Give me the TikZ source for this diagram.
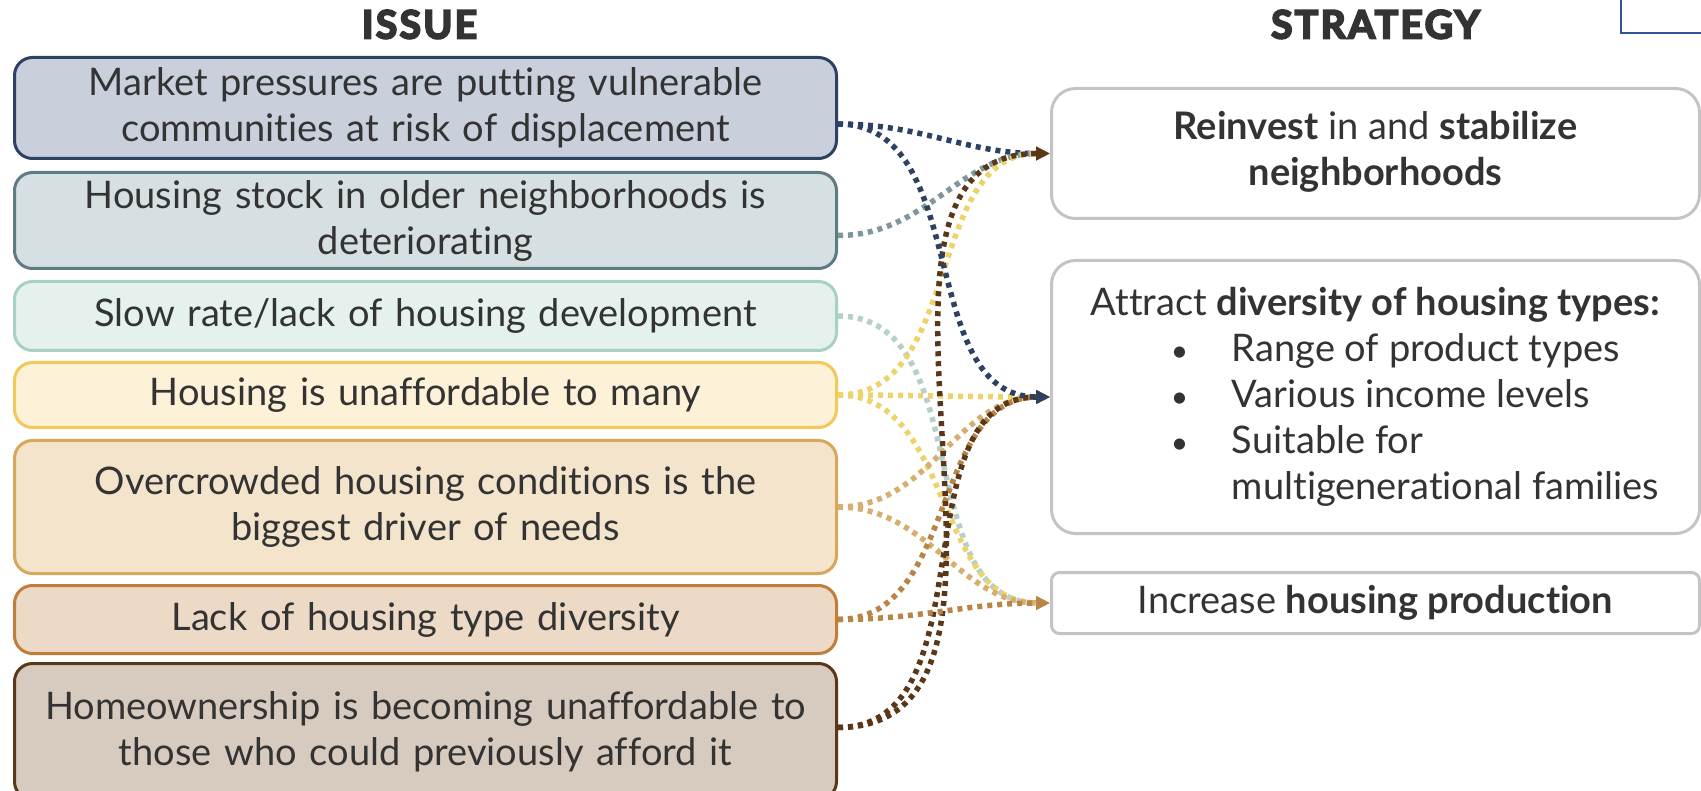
\documentclass[tikz,border=0pt]{standalone}
\usepackage{fontspec}
\setmainfont{Lato}[Ligatures=NoCommon]
\newfontfamily\headfont{Lato}[FakeBold=5, LetterSpace=6, Ligatures=NoCommon]
\usepackage{tikz}
\usetikzlibrary{positioning,arrows.meta}
\definecolor{navy}{HTML}{2D4262}
\definecolor{slate}{HTML}{5E7B83}
\definecolor{mint}{HTML}{A7D1C4}
\definecolor{sun}{HTML}{F2C85A}
\definecolor{sand}{HTML}{D9A75B}
\definecolor{rust}{HTML}{C27D3A}
\definecolor{umber}{HTML}{5A3718}
\definecolor{fillnavy}{HTML}{C9D0DB}
\definecolor{fillslate}{HTML}{D6E0E3}
\definecolor{fillmint}{HTML}{E4F1ED}
\definecolor{fillsun}{HTML}{FDF1D7}
\definecolor{fillsand}{HTML}{F3E4CB}
\definecolor{fillrust}{HTML}{ECDAC6}
\definecolor{fillumber}{HTML}{D7CBC0}
\definecolor{dotslate}{HTML}{7F979C}
\definecolor{dotmint}{HTML}{B5CFCB}
\definecolor{dotsun}{HTML}{ECD36A}
\definecolor{dotsand}{HTML}{D6AE6E}
\definecolor{dotrust}{HTML}{B98546}
\definecolor{boxgray}{HTML}{C4C4C4}
\definecolor{txtgray}{HTML}{333333}
\definecolor{framblue}{HTML}{2F5597}
\tikzstyle{issue} = [rectangle, rounded corners=18pt, line width=3pt, minimum width=822pt, text width=800pt, align=center, inner sep=0pt, text=txtgray, font=\fontsize{38pt}{46pt}\selectfont]
\tikzstyle{strategy} = [rectangle, rounded corners=24pt, draw=boxgray, line width=3pt, fill=white, minimum width=648pt, inner sep=0pt, text=txtgray, font=\fontsize{38pt}{46pt}\selectfont]
\tikzstyle{header} = [inner sep=0pt, text=txtgray, font=\fontsize{39pt}{46pt}\headfont\bfseries]
\tikzstyle{tedge} = [draw, line width=5.5pt, dash pattern=on 5pt off 5pt, -{Triangle[length=14pt,width=13pt]}]
\newcommand{\stratbullet}[1]{\hspace*{80pt}\makebox[61pt][l]{\fontsize{30pt}{30pt}\selectfont\textbullet}#1}

\begin{document}
\begin{tikzpicture}
\useasboundingbox (0,0) rectangle (1701pt,-791pt);

% issues =============================
\node[issue, fill=fillnavy, draw=navy, minimum height=101pt, anchor=north west] (i1) at (13pt,-56pt) {Market pressures are putting vulnerable\\ communities at risk of displacement};
\node[issue, fill=fillslate, draw=slate, minimum height=96pt, below=11pt of i1] (i2) {Housing stock in older neighborhoods is\\ deteriorating};
\node[issue, fill=fillmint, draw=mint, minimum height=69pt, below=10pt of i2] (i3) {Slow rate/lack of housing development};
\node[issue, fill=fillsun, draw=sun, minimum height=65pt, below=9pt of i3] (i4) {Housing is unaffordable to many};
\node[issue, fill=fillsand, draw=sand, minimum height=133pt, below=10pt of i4] (i5) {Overcrowded housing conditions is the\\ biggest driver of needs};
\node[issue, fill=fillrust, draw=rust, minimum height=68pt, below=9pt of i5] (i6) {Lack of housing type diversity};
\node[issue, fill=fillumber, draw=umber, minimum height=136pt, below=7pt of i6] (i7) {Homeownership is becoming unaffordable to\\ those who could previously afford it};
\node[header, above=17pt of i1, xshift=-6pt] (issuehead) {ISSUE};

% strategies =============================
\node[strategy, minimum height=130pt, anchor=north west] (sA) at (1050pt,-87pt) {\begin{tabular}{c}\textbf{Reinvest} in and \textbf{stabilize}\\ \textbf{neighborhoods}\end{tabular}};
\node[strategy, minimum height=273pt, below=39pt of sA, align=left] (sB) {Attract \textbf{diversity of housing types:}\\
\stratbullet{Range of product types}\\
\stratbullet{Various income levels}\\
\stratbullet{Suitable for}\\
\hspace*{141pt}multigenerational families};
\node[strategy, rounded corners=8pt, minimum height=61pt, below=36pt of sB] (sC) {Increase \textbf{housing production}};
\node[header, above=48pt of sA] (strathead) {STRATEGY};

% frame corner
\draw[framblue, line width=2pt] (1621pt,0pt) -- (1621pt,-33pt) -- (1701pt,-33pt);

% ports
\coordinate (p1) at ([yshift=-16pt]i1.east);
\coordinate (p2) at ([yshift=-15pt]i2.east);
\coordinate (p3) at (i3.east);
\coordinate (p4) at (i4.east);
\coordinate (p5) at (i5.east);
\coordinate (p6) at (i6.east);
\coordinate (p7) at ([yshift=4pt]i7.east);

%edges
\path[tedge, navy] (p1) to[out=0,in=180] (sA.west);
\path[tedge, dotslate] (p2) to[out=0,in=180] (sA.west);
\path[tedge, dotmint] (p3) to[out=0,in=180] (sC.west);
\path[tedge, dotsun] (p4) to[out=0,in=180] (sA.west);
\path[tedge, dotsun] (p4) to[out=0,in=180] (sB.west);
\path[tedge, dotsun] (p4) to[out=0,in=180] (sC.west);
\path[tedge, dotsand] (p5) to[out=0,in=180] (sB.west);
\path[tedge, dotsand] (p5) to[out=0,in=180] (sC.west);
\path[tedge, dotrust] (p6) to[out=0,in=180] (sB.west);
\path[tedge, umber] (p7) to[out=0,in=180] (sA.west);
\path[tedge, umber] (p7) to[out=0,in=180] (sB.west);
\path[tedge, dotrust] (p6) to[out=0,in=180] (sC.west);
\path[tedge, navy] (p1) to[out=0,in=180] (sB.west);

\end{tikzpicture}
\end{document}
